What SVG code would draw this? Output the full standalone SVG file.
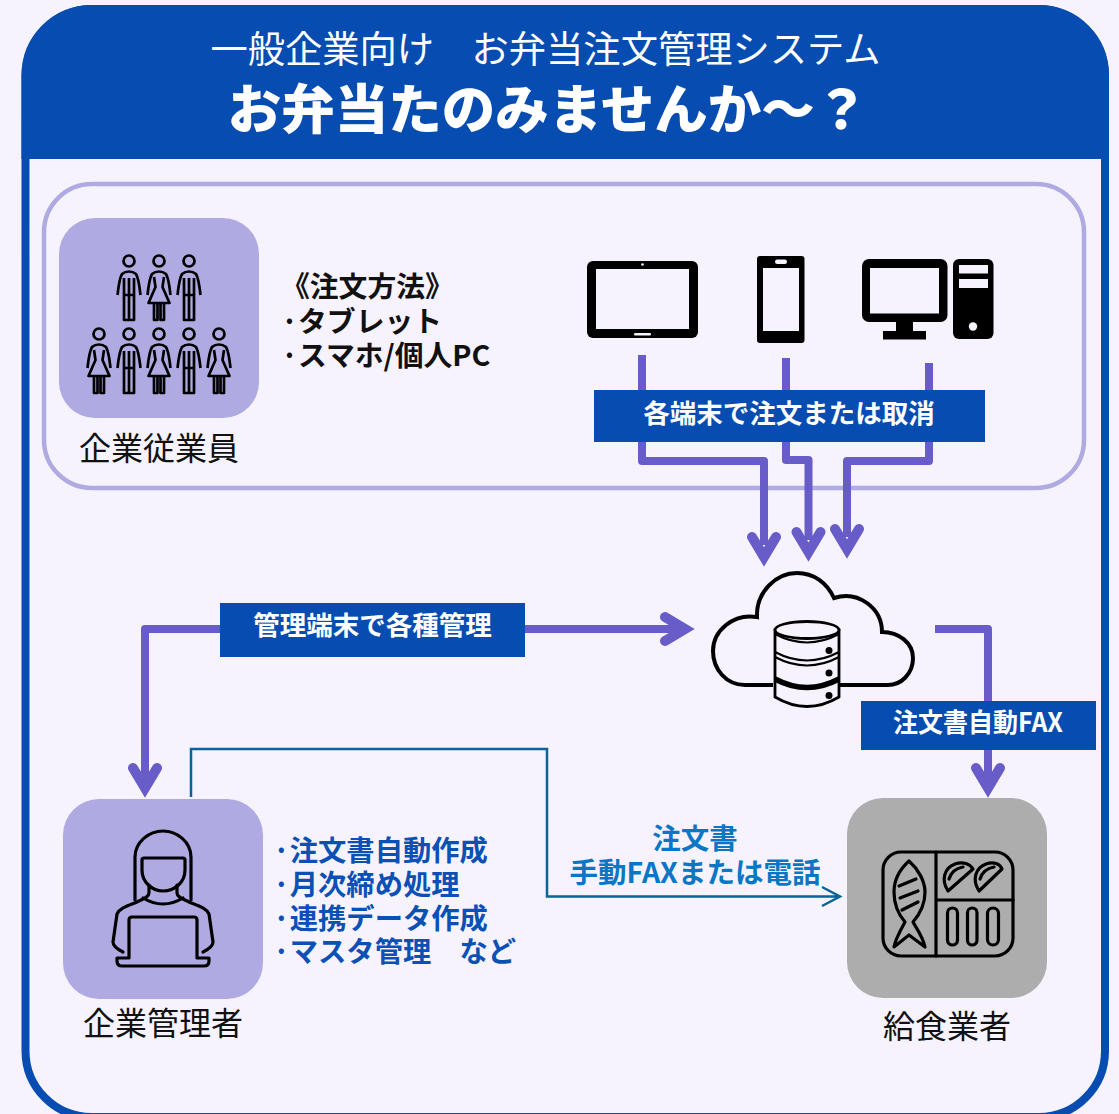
<svg xmlns="http://www.w3.org/2000/svg" width="1119" height="1114" viewBox="0 0 1119 1114">
<defs>
<style>
text{font-family:"Noto Sans CJK JP","Noto Sans",sans-serif}
.n{font-size:32px;fill:#111;text-anchor:middle}
.l{font-size:28.800px;font-weight:700;fill:#111}
.s{font-size:28.300px;font-weight:700;fill:#0A50B5}
.t{font-size:26.500px;font-weight:700;fill:#fff;text-anchor:middle}
.a{fill:none;stroke:#675CC8;stroke-width:8;stroke-linejoin:round}
.h{fill:none;stroke:#675CC8;stroke-width:10;stroke-linecap:round;stroke-linejoin:miter;stroke-miterlimit:6}
.i{fill:none;stroke:#000;stroke-width:3.200;stroke-linecap:round;stroke-linejoin:round}
.p{fill:none;stroke:#000;stroke-width:2.700;stroke-linecap:butt;stroke-linejoin:round}
.g{fill:#F6F3FF}
</style>
<g id="man"><circle cx="0" cy="-25" r="5.500" class="p"/><path class="p" d="M-11.500 9C-10.500 0 -9.500 -8 -7 -12Q-4 -14.500 0 -14.500Q4 -14.500 7 -12C9.500 -8 10.500 0 11.500 9M-5 -8V34H5V-8M0 -8V34M-5 9H5"/></g>
<g id="woman"><circle cx="0" cy="-25" r="5.500" class="p"/><path class="p" d="M-11.500 9C-10.500 0 -9.500 -8 -7 -12Q-4 -14.500 0 -14.500Q4 -14.500 7 -12C9.500 -8 10.500 0 11.500 9M-5 -9L-3.500 1L-10.500 17H10.500L3.500 1L5 -9M-5 17V34H-1.500V17M1.500 17V34H5V17"/></g>
</defs>
<rect width="1119" height="1114" fill="#F6F3FF"/>
<g id="frame">
<rect x="25.500" y="9" width="1079.500" height="1108" rx="66" fill="#F6F3FF" stroke="#074CB0" stroke-width="8"/>
<path d="M21.500 159V76A71 71 0 0 1 92.500 5H1038A71 71 0 0 1 1109 76V159Z" fill="#074CB0"/>
<text x="545.500" y="62.500" text-anchor="middle" font-size="37.300" fill="#fff">一般企業向け　お弁当注文管理システム</text>
<text x="548" y="129" text-anchor="middle" font-size="53.500" font-weight="900" fill="#fff">お弁当たのみませんか～？</text>
</g>
<rect id="panel" x="44" y="184" width="1040" height="304" rx="48" fill="none" stroke="#AFABE2" stroke-width="4.500"/>
<g id="connectors">
<path class="a" d="M642 355V461H764V545"/>
<path class="a" d="M786 358V460H808.500V540"/>
<path class="a" d="M929 363V461H847V537"/>
<path class="h" d="M752 537L764 557L776 537M796.500 532L808.500 552L820.500 532M835 529L847 549L859 529"/>
<path class="a" d="M685 629H145V780"/>
<path class="h" d="M665 617L685 629L665 641M133 768L145 788L157 768"/>
<path class="a" d="M935 629H988V780"/>
<path class="h" d="M976 768L988 788L1000 768"/>
<path d="M191 797V749H547V896.500H839M822 887L840 896.500L822 906" fill="none" stroke="#0A6399" stroke-width="2.500"/>
</g>
<g id="employees">
<rect x="59" y="218" width="200" height="200" rx="36" fill="#AFABE2"/>
<use href="#man" x="129" y="286"/><use href="#woman" x="159" y="286"/><use href="#man" x="189" y="286"/>
<use href="#woman" x="99" y="359"/><use href="#man" x="129" y="359"/><use href="#woman" x="159" y="359"/><use href="#man" x="189" y="359"/><use href="#woman" x="219" y="359"/>
<text class="n" x="159" y="460">企業従業員</text>
</g>
<text id="methods" class="l"><tspan x="281" y="297">《注文方法》</tspan><tspan x="281" y="332">·タブレット</tspan><tspan x="281" y="366">·スマホ/個人PC</tspan></text>
<g id="tablet">
<rect x="587" y="261" width="111" height="77" rx="6" fill="#000"/>
<rect class="g" x="596" y="269" width="93" height="60"/>
<circle class="g" cx="642.500" cy="264.500" r="1.300"/>
<rect class="g" x="634" y="333" width="17" height="2.500" rx="1.200"/>
</g>
<g id="phone">
<rect x="757" y="256" width="47.500" height="87" rx="3" fill="#000"/>
<rect class="g" x="763" y="268" width="36" height="63"/>
<rect class="g" x="775" y="259.500" width="12" height="4.500" rx="2.200"/>
</g>
<g id="pc">
<rect x="862" y="259" width="85.500" height="63" rx="7" fill="#000"/>
<rect class="g" x="870" y="268" width="69" height="45.500"/>
<rect x="896" y="320" width="17" height="12" fill="#000"/>
<rect x="883" y="331" width="43" height="8.500" fill="#000"/>
<rect x="953" y="259" width="40.500" height="80" rx="6" fill="#000"/>
<rect class="g" x="959" y="265" width="29" height="8.500"/>
<rect class="g" x="959" y="279" width="29" height="9"/>
<circle class="g" cx="973" cy="326.500" r="4.200"/>
</g>
<g id="label-terminal"><rect x="594" y="390" width="391" height="52" fill="#074CB0"/><text class="t" x="789" y="422.500">各端末で注文または取消</text></g>
<g id="label-admin"><rect x="220" y="603" width="305" height="54" fill="#074CB0"/><text class="t" x="372.500" y="635">管理端末で各種管理</text></g>
<g id="cloud">
<path d="M773 685H745C726 685 713 669 713 651C713 631 733 613 757 617C756 592 776 573 797 573C814 573 827 583 834 598C858 590 882 608 882 632C899 632 913 643 913 658C913 674 901 685 888 685H840" fill="none" stroke="#000" stroke-width="4"/>
<path d="M775 630V697Q807 716 839 697V630Z" fill="#F6F3FF" stroke="#000" stroke-width="2.800"/>
<ellipse cx="807" cy="630" rx="32" ry="8.500" fill="#F6F3FF" stroke="#000" stroke-width="2.800"/>
<path d="M775 634Q807 651 839 634M775 652Q807 669 839 652M775 657Q807 674 839 657" fill="none" stroke="#000" stroke-width="2.200"/>
<path d="M775 679Q807 696 839 679" fill="none" stroke="#000" stroke-width="5.500"/>
<circle cx="829" cy="650.500" r="3.500"/><circle cx="829" cy="673" r="3.500"/><circle cx="829" cy="695.500" r="3.500"/>
</g>
<g id="label-fax"><rect x="861" y="701" width="235" height="49" fill="#074CB0"/><text class="t" x="978" y="732" textLength="170" lengthAdjust="spacingAndGlyphs">注文書自動FAX</text></g>
<g id="admin">
<rect x="63" y="799" width="200" height="200" rx="36" fill="#AFABE2"/>
<path class="i" d="M135 900V857C135 842 149 831 163 831C177 831 191 842 191 857V900"/>
<path class="i" d="M142 860Q142 858 144 858H183Q185 858 185 860V870C185 882 175 891 163 891C152 891 142 882 142 870Z"/>
<path class="i" d="M149 885V893C149 897 143 899 137 902C127 906 120 908 117 914L113 942Q113 947 123 952M177 885V893C177 897 183 899 189 902C199 906 206 908 209 914L213 942Q213 947 203 952M143 898Q163 910 183 898"/>
<path class="i" d="M129 958V920Q129 917 132 917H194Q197 917 197 920V958H209V961Q209 966 204 966H122Q117 966 117 961V958Z"/>
<text class="n" x="163" y="1035">企業管理者</text>
</g>
<text id="admin-tasks" class="s"><tspan x="273" y="861">·注文書自動作成</tspan><tspan x="273" y="895">·月次締め処理</tspan><tspan x="273" y="929">·連携データ作成</tspan><tspan x="273" y="962">·マスタ管理　など</tspan></text>
<text id="label-manual" text-anchor="middle" font-size="28.500" font-weight="700" fill="#0B76C4"><tspan x="695" y="849">注文書</tspan><tspan x="695" y="883">手動FAXまたは電話</tspan></text>
<g id="caterer">
<rect x="847" y="798" width="200" height="200" rx="36" fill="#ADADAD"/>
<rect x="883" y="852" width="130" height="104" rx="18" class="i"/>
<path class="i" d="M936 852V956M936 900H1013"/>
<path class="i" d="M909 861C899 870 894 881 894 892C894 905 899 915 905 922C900 931 895 941 894 947L909 935L925 947C923 937 917 929 913 922C920 914 925 904 925 892C925 881 918 869 909 861ZM899 886L916 879M900 898L918 891M902 910L918 902"/>
<path class="i" d="M948 891C941 880 944 868 955 864C963 861 970 864 973 869ZM949 879Q952 869 963 867"/>
<path class="i" d="M979 891C972 880 975 868 986 864C994 861 1000 864 1002 869ZM980 879Q983 869 994 867"/>
<rect x="947.500" y="908" width="10" height="37" rx="5" class="i"/>
<rect x="967.500" y="908" width="9.500" height="37" rx="4.700" class="i"/>
<rect x="987.500" y="908" width="11" height="37" rx="5.500" class="i"/>
<text class="n" x="947" y="1038">給食業者</text>
</g>
</svg>
